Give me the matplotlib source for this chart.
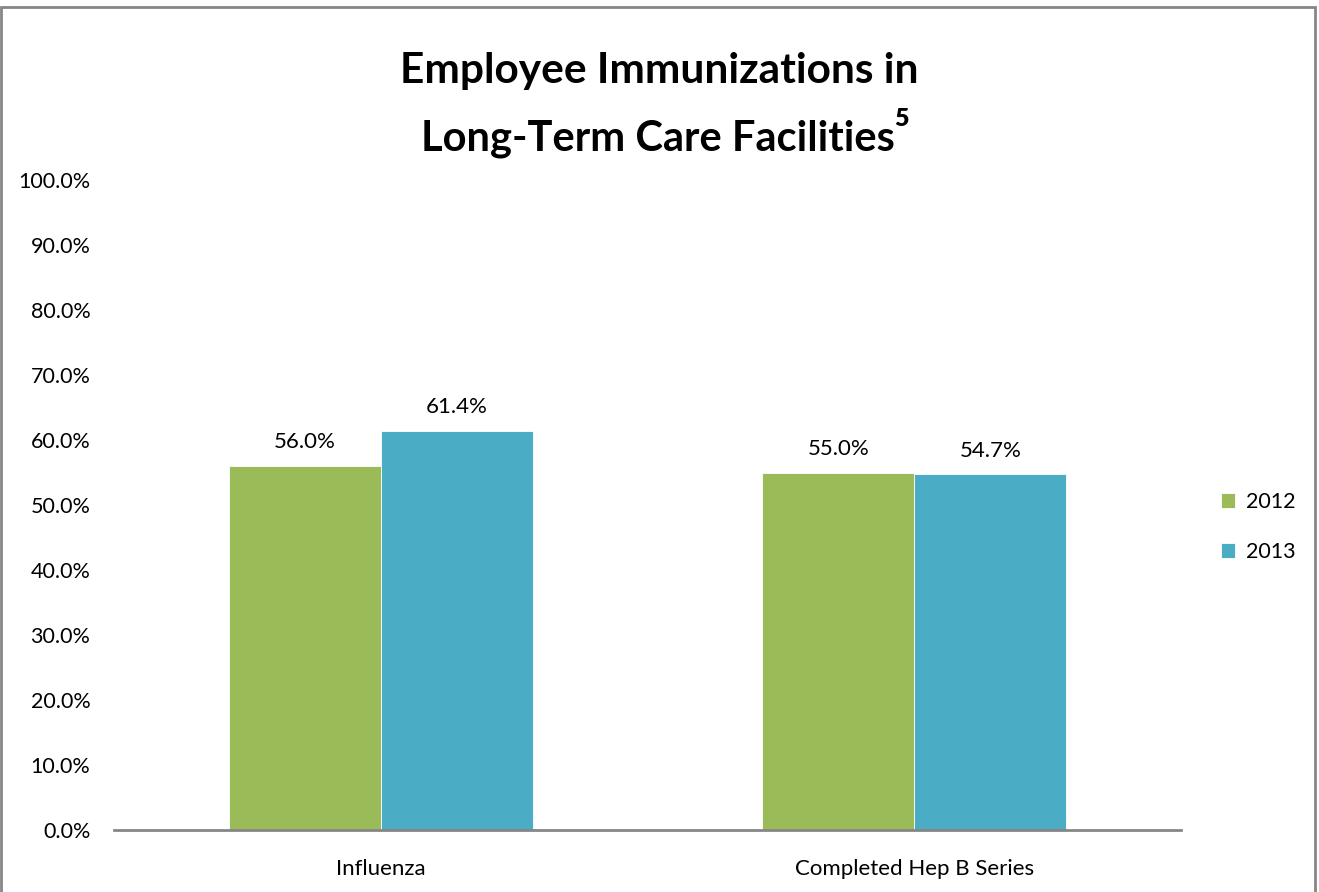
import matplotlib.pyplot as plt
from matplotlib.patches import Rectangle
import numpy as np

plt.rcParams['font.family'] = ['Lato', 'DejaVu Sans']

categories = ['Influenza', 'Completed Hep B Series']
years = ['2012', '2013']
values_2012 = [56.0, 55.0]
values_2013 = [61.4, 54.7]
colors = ['#9BBB59', '#4BACC6']

fig = plt.figure(figsize=(13.19, 8.92), dpi=100)
ax = fig.add_axes([114 / 1319, 1 - 830 / 892, (1181 - 114) / 1319, (830 - 180) / 892])

x = np.arange(len(categories))
w = 0.285
for i, (vals, yr) in enumerate(zip([values_2012, values_2013], years)):
    bars = ax.bar(x + (i - 0.5) * w, vals, w, color=colors[i], label=yr,
                  edgecolor='white', linewidth=0.6)
    for b, v in zip(bars, vals):
        ax.annotate(f'{v:.1f}%', (b.get_x() + b.get_width() / 2, v),
                    xytext=(0, 10), textcoords='offset points',
                    ha='center', va='bottom', fontsize=16)

ax.set_xlim(-0.5, 1.5)
ax.set_ylim(0, 100)
ax.set_yticks(np.arange(0, 101, 10))
ax.set_yticklabels([f'{t:.1f}%' for t in np.arange(0, 101, 10)])
ax.set_xticks(x)
ax.set_xticklabels(categories)
ax.tick_params(axis='y', length=0, pad=17, labelsize=15.5)
ax.tick_params(axis='x', length=0, pad=21, labelsize=16)
for s in ['top', 'right', 'left']:
    ax.spines[s].set_visible(False)
ax.spines['bottom'].set_color('#868686')
ax.spines['bottom'].set_linewidth(2)

fig.legend(loc='center left', bbox_to_anchor=(1202 / 1319, 1 - 527 / 892),
           frameon=False, fontsize=15.5, handlelength=0.65, handleheight=0.65,
           handletextpad=0.5, labelspacing=1.4)

# title, two lines, with superscript
fig.text(0.5, 1 - 83 / 892, 'Employee Immunizations in', ha='center',
         va='baseline', fontsize=30.5, fontweight='bold')
t2 = fig.text(0.499, 1 - 150 / 892, 'Long-Term Care Facilities', ha='center',
              va='baseline', fontsize=30, fontweight='bold')
fig.canvas.draw()
bb = t2.get_window_extent().transformed(fig.transFigure.inverted())
fig.text(bb.x1 - 0.0005, 1 - 126 / 892, '5', ha='left', va='baseline',
         fontsize=18, fontweight='heavy')

fig.add_artist(Rectangle((1 / 1319, -0.01), (1315 - 1) / 1319, 1.01 - 7 / 892,
                         transform=fig.transFigure, fill=False,
                         edgecolor='#868686', linewidth=2))

fig.savefig('out.png', dpi=100)
